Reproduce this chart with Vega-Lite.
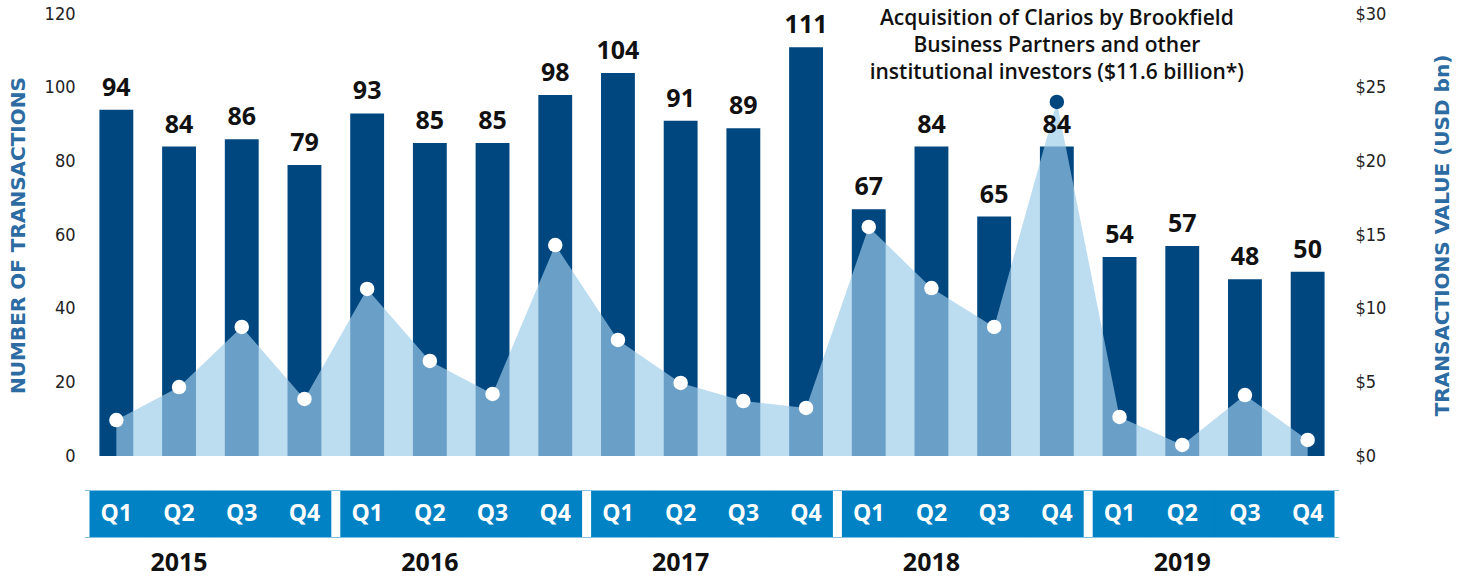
{
  "$schema": "https://vega.github.io/schema/vega-lite/v6.json",
  "padding": {"left": 8, "top": 5, "right": 5, "bottom": 2},
  "bounds": "flush",
  "spacing": 35,
  "config": {
    "view": {"stroke": null},
    "font": "Open Sans",
    "axis": {"grid": false, "ticks": false, "domain": false}
  },
  "datasets": {
    "q": [
      {"year": "2015", "q": "Q1", "key": "2015 Q1", "n": 94, "v": 2.44},
      {"year": "2015", "q": "Q2", "key": "2015 Q2", "n": 84, "v": 4.68},
      {"year": "2015", "q": "Q3", "key": "2015 Q3", "n": 86, "v": 8.76},
      {"year": "2015", "q": "Q4", "key": "2015 Q4", "n": 79, "v": 3.87},
      {"year": "2016", "q": "Q1", "key": "2016 Q1", "n": 93, "v": 11.34},
      {"year": "2016", "q": "Q2", "key": "2016 Q2", "n": 85, "v": 6.45},
      {"year": "2016", "q": "Q3", "key": "2016 Q3", "n": 85, "v": 4.21},
      {"year": "2016", "q": "Q4", "key": "2016 Q4", "n": 98, "v": 14.32},
      {"year": "2017", "q": "Q1", "key": "2017 Q1", "n": 104, "v": 7.88},
      {"year": "2017", "q": "Q2", "key": "2017 Q2", "n": 91, "v": 4.96},
      {"year": "2017", "q": "Q3", "key": "2017 Q3", "n": 89, "v": 3.73},
      {"year": "2017", "q": "Q4", "key": "2017 Q4", "n": 111, "v": 3.26},
      {"year": "2018", "q": "Q1", "key": "2018 Q1", "n": 67, "v": 15.55},
      {"year": "2018", "q": "Q2", "key": "2018 Q2", "n": 84, "v": 11.4},
      {"year": "2018", "q": "Q3", "key": "2018 Q3", "n": 65, "v": 8.76},
      {"year": "2018", "q": "Q4", "key": "2018 Q4", "n": 84, "v": 24.03},
      {"year": "2019", "q": "Q1", "key": "2019 Q1", "n": 54, "v": 2.65},
      {"year": "2019", "q": "Q2", "key": "2019 Q2", "n": 57, "v": 0.75},
      {"year": "2019", "q": "Q3", "key": "2019 Q3", "n": 48, "v": 4.14},
      {"year": "2019", "q": "Q4", "key": "2019 Q4", "n": 50, "v": 1.09}
    ],
    "note": [
      {"key": "2018 Q4", "v": 24.03, "text": ["Acquisition of Clarios by Brookfield", "Business Partners and other", "institutional investors ($11.6 billion*)"]}
    ]
  },
  "vconcat": [
    {
      "width": 1254,
      "height": 442,
      "resolve": {"scale": {"y": "independent"}},
      "layer": [
        {
          "data": {"name": "q"},
          "mark": {"type": "bar", "color": "#00467f", "width": {"band": 0.54}},
          "encoding": {
            "x": {"field": "key", "type": "nominal", "sort": null, "scale": {"type": "band", "paddingInner": 0, "paddingOuter": 0}, "axis": null},
            "y": {"field": "n", "type": "quantitative", "scale": {"domain": [0, 120], "nice": false, "zero": true},
              "axis": {"orient": "left", "values": [0, 20, 40, 60, 80, 100, 120], "title": "NUMBER OF TRANSACTIONS",
                "labelFont": "DejaVu Sans Condensed, Roboto, sans-serif", "labelFontSize": 18, "labelColor": "#222", "labelPadding": 10,
                "titleFont": "DejaVu Sans", "titleFontSize": 20, "titleFontWeight": "bold", "titleColor": "#2d6ca2", "titlePadding": 16}}
          }
        },
        {
          "encoding": {
            "x": {"field": "key", "type": "nominal", "sort": null, "scale": {"type": "band", "paddingInner": 0, "paddingOuter": 0}, "axis": null},
            "y": {"field": "v", "type": "quantitative", "scale": {"domain": [0, 30], "nice": false, "zero": true},
              "axis": {"orient": "right", "values": [0, 5, 10, 15, 20, 25, 30], "labelExpr": "'$' + datum.value", "title": "TRANSACTIONS VALUE (USD bn)",
                "labelFont": "DejaVu Sans Condensed, Roboto, sans-serif", "labelFontSize": 18, "labelColor": "#222", "labelPadding": 16,
                "titleFont": "DejaVu Sans", "titleFontSize": 20, "titleFontWeight": "bold", "titleColor": "#2d6ca2", "titlePadding": 67, "titleAngle": 270}}
          },
          "layer": [
            {"data": {"name": "q"}, "mark": {"type": "area", "color": "#9ccbe9", "opacity": 0.68}},
            {"data": {"name": "q"}, "mark": {"type": "point", "filled": true, "size": 210, "opacity": 1},
             "encoding": {"color": {"condition": {"test": "datum.key === '2018 Q4'", "value": "#00467f"}, "value": "#ffffff"}}},
            {"data": {"name": "note"}, "mark": {"type": "text", "baseline": "bottom", "dy": -73, "fontSize": 21, "fontWeight": 600, "color": "#111", "lineHeight": 27},
             "encoding": {"text": {"field": "text"}}}
          ]
        },
        {
          "data": {"name": "q"},
          "mark": {"type": "text", "baseline": "alphabetic", "dy": -14, "fontSize": 25, "fontWeight": "bold", "color": "#111"},
          "encoding": {
            "x": {"field": "key", "type": "nominal", "sort": null, "scale": {"type": "band", "paddingInner": 0, "paddingOuter": 0}, "axis": null},
            "y": {"field": "n", "type": "quantitative", "scale": {"domain": [0, 120], "nice": false, "zero": true}, "axis": null},
            "text": {"field": "n", "type": "quantitative"}
          }
        }
      ]
    },
    {
      "width": 1254,
      "height": 46,
      "data": {"name": "q"},
      "encoding": {
        "x": {"field": "key", "type": "nominal", "sort": null, "scale": {"type": "band", "paddingInner": 0, "paddingOuter": 0},
          "axis": {"orient": "bottom", "values": ["2015 Q2", "2016 Q2", "2017 Q2", "2018 Q2", "2019 Q2"], "bandPosition": 1,
            "labelExpr": "slice(datum.value, 0, 4)", "labelFontSize": 25, "labelFontWeight": "bold", "labelColor": "#111",
            "labelPadding": 13, "labelAngle": 0, "title": null}}
      },
      "layer": [
        {"mark": {"type": "bar", "color": "#0082c4", "stroke": "#0082c4", "strokeWidth": 1}},
        {"transform": [{"filter": "datum.q === 'Q1'"}], "mark": {"type": "rule", "color": "#ffffff", "strokeWidth": 9},
         "encoding": {"x": {"field": "key", "type": "nominal", "sort": null, "bandPosition": 0}}},
        {"transform": [{"filter": "datum.key === '2019 Q4'"}], "mark": {"type": "rule", "color": "#ffffff", "strokeWidth": 9},
         "encoding": {"x": {"field": "key", "type": "nominal", "sort": null, "bandPosition": 1}}},
        {"mark": {"type": "text", "color": "#ffffff", "fontSize": 23, "fontWeight": "bold", "baseline": "middle"},
         "encoding": {"text": {"field": "q"}}}
      ]
    }
  ]
}
